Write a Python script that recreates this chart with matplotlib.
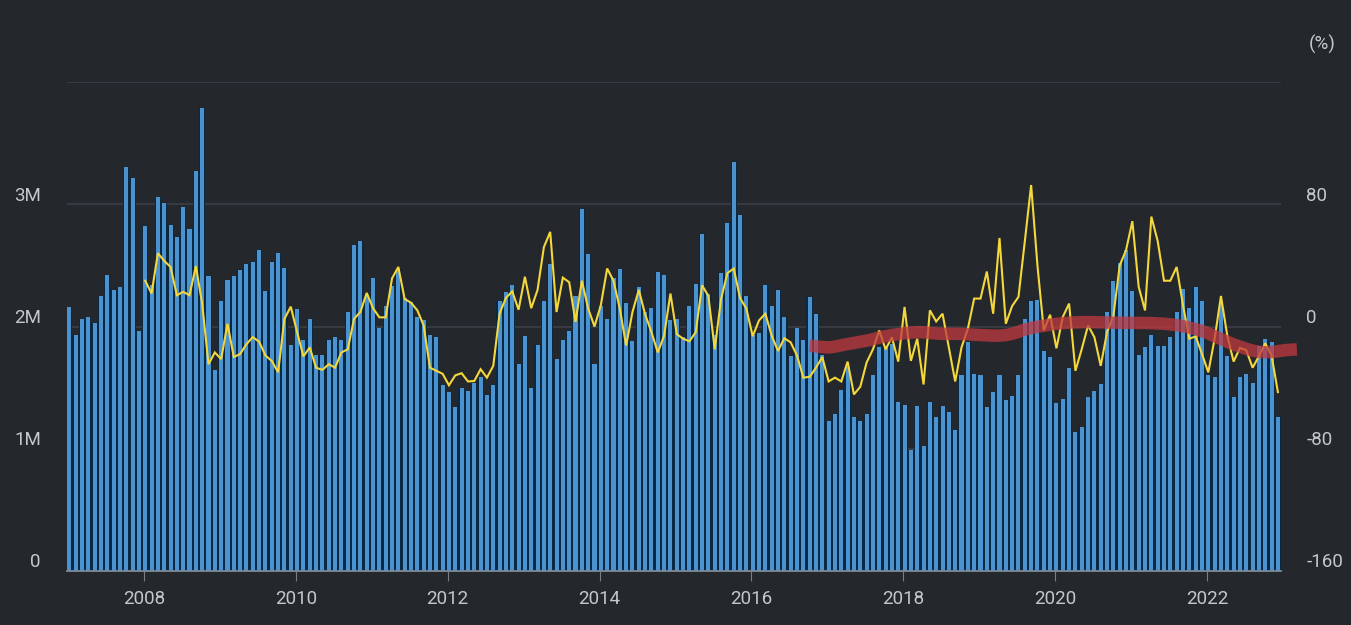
import matplotlib
matplotlib.use('Agg')
import matplotlib.pyplot as plt
import matplotlib.transforms as mtransforms
import numpy as np

plt.rcParams['font.family'] = ['Roboto', 'DejaVu Sans']

# ---------------- data ----------------
start_year = 2007
# monthly volume (millions), Jan 2007 .. Dec 2022
volume_m = [
    2.16, 1.93, 2.06, 2.08, 2.03, 2.25, 2.42, 2.30, 2.32, 3.31, 3.22, 1.96,
    2.82, 2.34, 3.06, 3.01, 2.83, 2.73, 2.98, 2.80, 3.27, 3.79, 2.41, 1.64,
    2.21, 2.38, 2.41, 2.46, 2.51, 2.53, 2.63, 2.29, 2.53, 2.60, 2.48, 1.85,
    2.14, 1.89, 2.06, 1.77, 1.77, 1.89, 1.91, 1.89, 2.12, 2.67, 2.70, 2.26,
    2.40, 1.99, 2.17, 2.33, 2.47, 2.23, 2.20, 2.08, 2.05, 1.93, 1.91, 1.52,
    1.46, 1.34, 1.50, 1.47, 1.54, 1.59, 1.44, 1.52, 2.21, 2.28, 2.34, 1.69,
    1.92, 1.50, 1.85, 2.21, 2.51, 1.73, 1.89, 1.96, 2.25, 2.96, 2.59, 1.69,
    2.17, 2.06, 2.40, 2.47, 2.19, 1.88, 2.32, 2.12, 2.15, 2.45, 2.42, 2.05,
    2.06, 1.91, 2.17, 2.35, 2.76, 2.27, 1.93, 2.44, 2.85, 3.35, 2.91, 2.25,
    1.93, 1.95, 2.34, 2.17, 2.30, 2.08, 1.76, 1.99, 1.89, 2.24, 2.10, 1.77,
    1.23, 1.28, 1.48, 1.67, 1.26, 1.23, 1.28, 1.60, 1.83, 1.84, 1.86, 1.38,
    1.36, 0.99, 1.35, 1.02, 1.38, 1.26, 1.35, 1.30, 1.15, 1.60, 1.87, 1.61,
    1.60, 1.34, 1.46, 1.60, 1.40, 1.43, 1.60, 2.06, 2.21, 2.22, 1.80, 1.75,
    1.37, 1.41, 1.66, 1.14, 1.18, 1.42, 1.47, 1.53, 2.12, 2.37, 2.52, 2.63,
    2.29, 1.77, 1.83, 1.93, 1.84, 1.84, 1.91, 2.12, 2.31, 2.15, 2.32, 2.21,
    1.60, 1.59, 2.19, 1.76, 1.42, 1.59, 1.61, 1.54, 1.84, 1.90, 1.87, 1.26,
]
# year-over-year change (%), Jan 2008 .. Dec 2022
yoy_start = "2008-01"
yoy_pct = [
    30, 21.6, 48, 43, 39, 20.5, 22.7, 20.5, 39.6, 15, -24.7, -17,
    -21.4, 1.8, -20, -18, -11.5, -7, -10, -19, -22.6, -30, 5, 13,
    -3.7, -19.6, -13.7, -27, -28.4, -24.7, -27, -17, -15, 5, 9.5, 22,
    12, 6, 6, 31.5, 39, 18, 15.6, 10.6, 0.7, -27, -29, -31,
    -38.5, -32, -30.6, -36, -35.7, -28, -33.5, -25.8, 8.5, 18.7, 23, 11,
    32.6, 12, 24, 52, 62, 9.5, 32, 29, 3, 30, 11.7, 0,
    14, 38, 30, 11.7, -12.5, 9.5, 24, 8, -3.7, -17, -6, 21.6,
    -5, -8, -9.7, -3.7, 27, 20, -15, 18, 35, 38, 18.7, 11.7,
    -6.4, 4, 8.4, -6, -16, -7.7, -10.4, -19, -33.5, -33, -27, -20,
    -36, -33.5, -36, -23, -44.5, -39.5, -23.6, -15, -2.6, -15, -7, -23,
    12.8, -22.5, -8, -38, 10.6, 3.3, 8.4, -13.7, -36, -13.7, -1.5, 18.3,
    18.3, 36, 8.4, 58, 1.8, 13.4, 19.4, 55.7, 92.7, 40, -2.6, 7.7,
    -14.3, 6.2, 15, -29, -14.8, 0.7, -7, -25.8, -3.7, 7, 40, 50,
    69, 26, 10.5, 72, 56, 30, 30, 39, 14, -8, -6.5, -18,
    -30, -8, 20, -6, -23, -14, -15.5, -27, -19.5, -11, -19, -43,
]
# trend (%), Oct 2016 .. Mar 2023
trend_start = "2016-10"
trend_pct = [
    -12.5, -13, -13.5,
    -13.7, -13.2, -12.3, -11.5, -10.8, -10, -9.3, -8.3, -7.3, -6.4, -5.6, -5,
    -4.4, -4, -3.7, -3.8, -4.2, -4.6, -4.8, -4.8, -4.8, -4.9, -5.1, -5.4,
    -5.6, -5.8, -6, -6, -5.6, -4.8, -3.5, -2, -1, -0.2, 0.5, 1.2,
    1.7, 2.2, 2.5, 2.7, 2.8, 2.9, 2.8, 2.7, 2.6, 2.5, 2.5, 2.4,
    2.4, 2.3, 2.3, 2.2, 2.0, 1.8, 1.4, 0.9, 0.2, -0.7, -1.8, -3,
    -4.5, -6.3, -8.2, -10, -11.7, -13.2, -14.6, -15.8, -16.6, -16.9, -16.7, -16.2,
    -15.6, -15.2, -15,
]
tick_years = [2008, 2010, 2012, 2014, 2016, 2018, 2020, 2022]
left_ticks = [0, 1, 2, 3]
left_labels = ['0', '1M', '2M', '3M']
right_ticks = [-160, -80, 0, 80]
right_labels = ['-160', '-80', '0', '80']
right_unit = '(%)'

# ---------------- style ----------------
BG = '#24282d'
BLUE = '#4a93d0'
NAVY = '#0b2841'
GRID = '#3a3e44'
AXIS = '#7d8b99'
TEXT = '#c4c8cc'
YELLOW = '#f4d73b'
RED = '#c0393f'
FS = 13.5

W, H = 1351, 625
fig = plt.figure(figsize=(W / 100, H / 100), dpi=100, facecolor=BG)
L_px, R_px, T_px, B_px = 66.7, 1280.5, 82.3, 570.7
ax = fig.add_axes([L_px / W, 1 - B_px / H, (R_px - L_px) / W, (B_px - T_px) / H])
ax.set_facecolor(BG)


def month_index(s):
    y, m = s.split('-')
    return (int(y) - start_year) * 12 + int(m) - 1


x = np.arange(len(volume_m))
ax.bar(x, volume_m, width=1.0, color=NAVY, linewidth=0, zorder=2)
ax.bar(x, volume_m, width=0.64, color=BLUE, linewidth=0, zorder=3)
ax.set_xlim(-0.41, len(volume_m) - 1 + 0.41)
ax.set_ylim(0, 4)

for v in [1, 2, 3, 4]:
    ax.axhline(v, color=GRID, lw=1.3, zorder=1)

for s in ['top', 'left', 'right']:
    ax.spines[s].set_visible(False)
ax.spines['bottom'].set_color(AXIS)
ax.spines['bottom'].set_linewidth(1.3)
ax.spines['bottom'].set_zorder(6)
ax.set_yticks([])

tick_pos = [(y - start_year) * 12 - 0.2 for y in tick_years]
ax.set_xticks(tick_pos)
ax.tick_params(axis='x', length=7.5, width=0.8, color='#7a7e84',
               direction='out', labelbottom=False)

ax2 = ax.twinx()
ax2.set_ylim(-160, 160)
ax2.set_yticks([])
for s in ax2.spines.values():
    s.set_visible(False)

xy = np.arange(month_index(yoy_start), month_index(yoy_start) + len(yoy_pct))
ax2.plot(xy, yoy_pct, color=YELLOW, lw=1.5, zorder=4, solid_joinstyle='miter')
xt = np.arange(month_index(trend_start), month_index(trend_start) + len(trend_pct))
ax2.plot(xt, trend_pct, color=RED, alpha=0.75, lw=9.0, solid_capstyle='butt',
         clip_on=False, zorder=5)

# labels
tl = mtransforms.offset_copy(
    mtransforms.blended_transform_factory(ax.transAxes, ax.transData),
    fig=fig, x=0, y=3.5, units='dots')
for v, lab in zip(left_ticks, left_labels):
    ax.text(-0.0213, v, lab, transform=tl, ha='right', va='baseline',
            color=TEXT, fontsize=FS)
tr = mtransforms.offset_copy(
    mtransforms.blended_transform_factory(ax2.transAxes, ax2.transData),
    fig=fig, x=0, y=3.5, units='dots')
for v, lab in zip(right_ticks, right_labels):
    ax2.text(1.0213, v, lab, transform=tr, ha='left', va='baseline',
             color=TEXT, fontsize=FS)
tx = mtransforms.offset_copy(
    mtransforms.blended_transform_factory(ax.transData, ax.transAxes),
    fig=fig, x=0, y=-33.3, units='dots')
for p, yr in zip(tick_pos, tick_years):
    ax.text(p, 0, str(yr), transform=tx, ha='center', va='baseline',
            color=TEXT, fontsize=FS)
fig.text(1309 / W, 1 - 49.5 / H, right_unit, ha='left', va='baseline',
         color=TEXT, fontsize=FS)

fig.savefig('out.png', dpi=100, facecolor=BG)
